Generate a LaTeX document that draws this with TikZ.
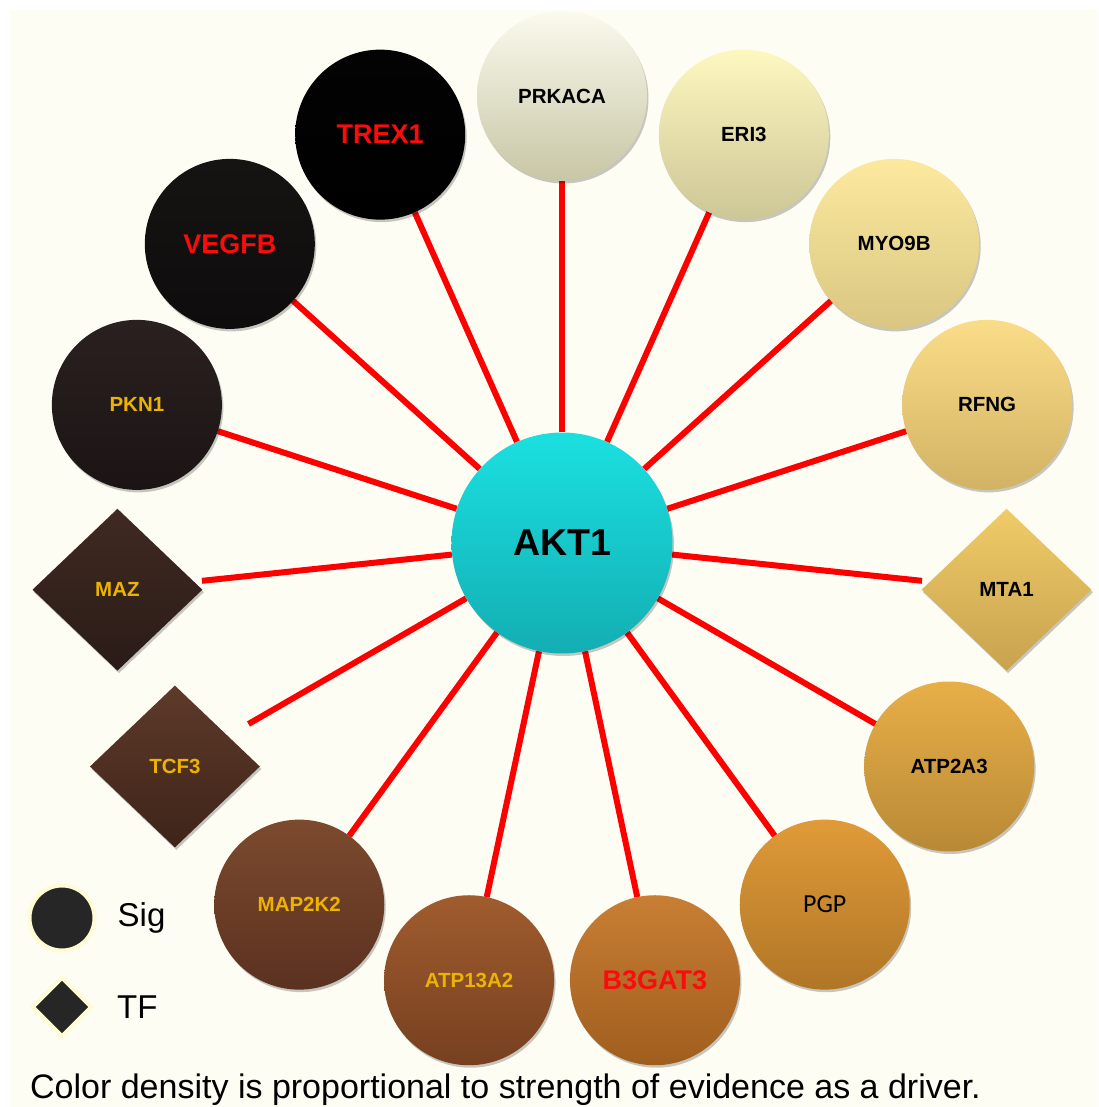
\documentclass[tikz,border=0pt]{standalone}
\usepackage{fontspec}
\setmainfont{Liberation Sans}
\newfontfamily\narrowfont{Carlito}
\usetikzlibrary{shapes.geometric,positioning,backgrounds,shadows}

\definecolor{paper}{RGB}{254,253,244}
\definecolor{linkred}{RGB}{255,0,0}
\definecolor{labelred}{RGB}{250,12,12}
\definecolor{labelgold}{RGB}{236,180,0}
\definecolor{legdark}{RGB}{38,38,38}
\definecolor{leghalo}{RGB}{255,251,212}
\definecolor{hubtop}{RGB}{27,224,224}
\definecolor{hubbot}{RGB}{19,174,179}
% partner colours, light = weak evidence, dark = strong
\definecolor{prkacatop}{RGB}{250,250,238}  \definecolor{prkacabot}{RGB}{200,198,165}
\definecolor{eritop}{RGB}{253,247,192}     \definecolor{eribot}{RGB}{205,198,150}
\definecolor{myotop}{RGB}{253,233,158}     \definecolor{myobot}{RGB}{216,198,130}
\definecolor{rfngtop}{RGB}{250,221,136}    \definecolor{rfngbot}{RGB}{210,178,100}
\definecolor{mtatop}{RGB}{240,203,104}     \definecolor{mtabot}{RGB}{200,162,78}
\definecolor{atpatop}{RGB}{232,175,72}     \definecolor{atpabot}{RGB}{184,137,54}
\definecolor{pgptop}{RGB}{224,154,56}      \definecolor{pgpbot}{RGB}{176,118,38}
\definecolor{bgattop}{RGB}{200,126,52}     \definecolor{bgatbot}{RGB}{160,94,30}
\definecolor{atpbtop}{RGB}{160,92,46}      \definecolor{atpbbot}{RGB}{118,64,32}
\definecolor{maptop}{RGB}{124,74,46}       \definecolor{mapbot}{RGB}{91,49,32}
\definecolor{tcftop}{RGB}{94,58,42}        \definecolor{tcfbot}{RGB}{62,36,25}
\definecolor{maztop}{RGB}{64,42,34}        \definecolor{mazbot}{RGB}{42,27,23}
\definecolor{pkntop}{RGB}{42,32,32}        \definecolor{pknbot}{RGB}{28,20,20}
\definecolor{vegtop}{RGB}{22,19,19}        \definecolor{vegbot}{RGB}{14,12,12}
\definecolor{trextop}{RGB}{3,3,3}          \definecolor{trexbot}{RGB}{0,0,0}

\tikzset{
  gene/.style={inner sep=0pt,
    drop shadow={shadow xshift=1.5pt, shadow yshift=-2.5pt, fill=black, opacity=0.22}},
  signode/.style={gene, circle, minimum size=170pt},
  tfnode/.style={gene, diamond, minimum width=170pt, minimum height=162pt},
  lbldark/.style={text=black, font=\fontsize{20.5}{24}\selectfont\bfseries},
  lblplain/.style={text=black, font=\narrowfont\fontsize{26}{30}\selectfont},
  lblred/.style={text=labelred, font=\fontsize{27}{32}\selectfont\bfseries},
  lblgold/.style={text=labelgold, font=\fontsize{20.5}{24}\selectfont\bfseries},
  link/.style={draw=linkred, line width=6pt, shorten >=85pt},
  legendtxt/.style={inner sep=0pt, font=\fontsize{33}{38}\selectfont}
}

\begin{document}
\begin{tikzpicture}[x=1pt,y=1pt]
  \useasboundingbox (-562,-564) rectangle (536,543);

  % partners around the hub, 24 degrees apart
  \foreach \nm/\ang/\shp/\lbl/\col/\txt in {
      prkaca/90/signode/lbldark/prkaca/PRKACA,
      eri/66/signode/lbldark/eri/ERI3,
      myo/42/signode/lbldark/myo/MYO9B,
      rfng/18/signode/lbldark/rfng/RFNG,
      mta/-6/tfnode/lbldark/mta/MTA1,
      atpa/-30/signode/lbldark/atpa/ATP2A3,
      pgp/-54/signode/lblplain/pgp/PGP,
      bgat/-78/signode/lblred/bgat/B3GAT3,
      atpb/-102/signode/lblgold/atpb/ATP13A2,
      map/-126/signode/lblgold/map/MAP2K2,
      tcf/-150/tfnode/lblgold/tcf/TCF3,
      maz/-174/tfnode/lblgold/maz/MAZ,
      pkn/162/signode/lblgold/pkn/PKN1,
      veg/138/signode/lblred/veg/VEGFB,
      trex/114/signode/lblred/trex/TREX1}
    \node[\shp, \lbl, top color=\col top, bottom color=\col bot] (\nm) at (\ang:447) {\txt};

  % hub
  \node[gene, circle, minimum size=221pt, top color=hubtop, bottom color=hubbot,
        font=\fontsize{37.5}{42}\selectfont\bfseries] (akt) at (0,0) {AKT1};

  \begin{pgfonlayer}{background}
    \fill[paper] (-552,-564) rectangle (536,533);
    \foreach \nm in {prkaca,eri,myo,rfng,mta,atpa,pgp,bgat,atpb,map,tcf,maz,pkn,veg,trex}
      \draw[link] (akt) -- (\nm.center);
  \end{pgfonlayer}

  % legend
  \node[circle, minimum size=65pt, fill=legdark, draw=leghalo, line width=4pt] (sigkey) at (-500,-375) {};
  \node[legendtxt, right=21pt of sigkey] (sigtxt) {Sig};
  \node[diamond, minimum size=60pt, inner sep=0pt, fill=legdark, draw=leghalo, line width=4pt] (tfkey) at (-500,-464) {};
  \node[legendtxt, right=23pt of tfkey] (tftxt) {TF};

  \node[legendtxt, anchor=base west, font=\fontsize{34}{38}\selectfont] (note) at (-532,-555)
    {Color density is proportional to strength of evidence as a driver.};
\end{tikzpicture}
\end{document}
